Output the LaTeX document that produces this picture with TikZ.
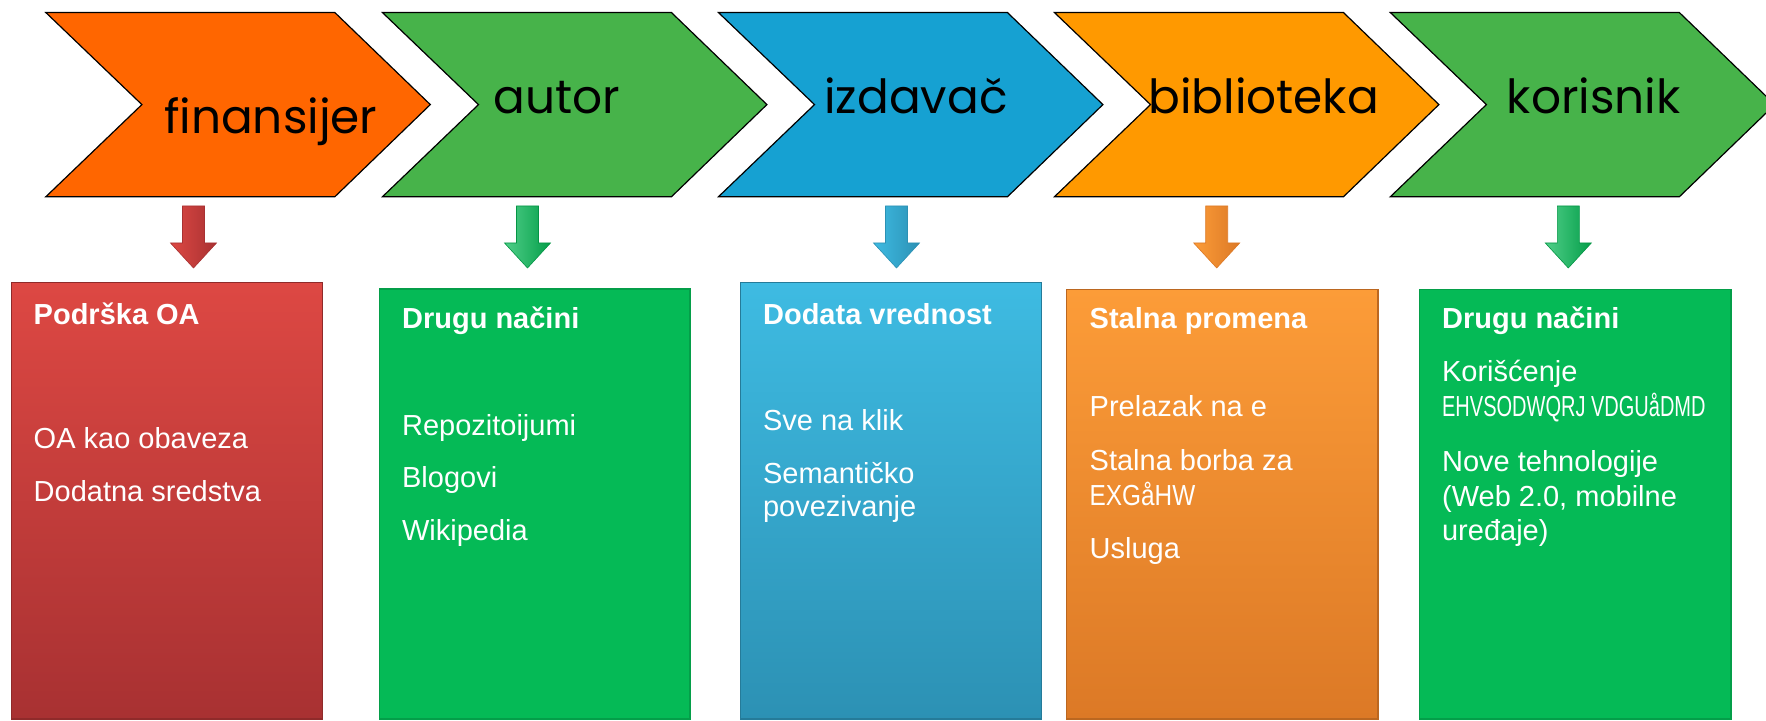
\documentclass[tikz,border=0pt]{standalone}
\usepackage{fontspec}
\setmainfont{Liberation Sans}
\newfontfamily\comicfont{Poppins}
\usepackage{xcolor}
\usepackage{graphicx}
\usepackage{tikz}

\definecolor{chevOrange}{RGB}{255,102,0}
\definecolor{chevGreen}{RGB}{71,179,74}
\definecolor{chevBlue}{RGB}{22,161,210}
\definecolor{chevAmber}{RGB}{255,153,0}
\definecolor{boxRedTop}{RGB}{221,72,67}
\definecolor{boxRedBot}{RGB}{168,49,50}
\definecolor{boxGreen}{RGB}{5,186,86}
\definecolor{boxBlueTop}{RGB}{62,187,226}
\definecolor{boxBlueBot}{RGB}{44,145,180}
\definecolor{boxAmberTop}{RGB}{252,156,56}
\definecolor{boxAmberBot}{RGB}{220,121,38}

\begin{document}
\begin{tikzpicture}[x=0.5pt,y=0.5pt,yscale=-1,xscale=1,
  chev/.style={draw=black, line width=0.6pt},
  chevtext/.style={font=\comicfont\fontsize{23.5}{28}\selectfont, anchor=base, inner sep=0pt},
  block/.style={line width=0.6pt},
  darrow/.style={line width=0.3pt},
  boxhead/.style={font=\bfseries\fontsize{14.5}{17.5}\selectfont, text=white, anchor=base west, inner sep=0pt},
  boxtext/.style={font=\fontsize{14.5}{17.5}\selectfont, text=white, anchor=base west, inner sep=0pt}]
\useasboundingbox (0,0) rectangle (1766,721);

%Shape: Chevron
\draw [chev, fill=chevOrange] (45.9,12.6) -- (334.9,12.6) -- (430.3,104.6) -- (334.9,196.7) -- (45.9,196.7) -- (141.9,104.6) -- cycle ;
%Shape: Chevron
\draw [chev, fill=chevGreen] (382.5,12.6) -- (671.5,12.6) -- (766.9,104.6) -- (671.5,196.7) -- (382.5,196.7) -- (478.5,104.6) -- cycle ;
%Shape: Chevron
\draw [chev, fill=chevBlue] (718.5,12.6) -- (1007.5,12.6) -- (1102.9,104.6) -- (1007.5,196.7) -- (718.5,196.7) -- (814.5,104.6) -- cycle ;
%Shape: Chevron
\draw [chev, fill=chevAmber] (1054.5,12.6) -- (1343.5,12.6) -- (1438.9,104.6) -- (1343.5,196.7) -- (1054.5,196.7) -- (1150.5,104.6) -- cycle ;
%Shape: Chevron
\draw [chev, fill=chevGreen] (1390.4,12.6) -- (1679.4,12.6) -- (1774.8,104.6) -- (1679.4,196.7) -- (1390.4,196.7) -- (1486.4,104.6) -- cycle ;

%Shape: Down Arrow
\draw [darrow, draw=boxRedBot, left color=boxRedTop, right color=boxRedBot] (182.5,206) -- (204.5,206) -- (204.5,243) -- (216.5,243) -- (193.5,268) -- (170.5,243) -- (182.5,243) -- cycle ;
%Shape: Down Arrow
\draw [darrow, draw=boxGreen!80!black, left color=boxGreen!70!white, right color=boxGreen!85!black] (516.5,206) -- (538.5,206) -- (538.5,243) -- (550.5,243) -- (527.5,268) -- (504.5,243) -- (516.5,243) -- cycle ;
%Shape: Down Arrow
\draw [darrow, draw=boxBlueBot, left color=boxBlueTop, right color=boxBlueBot] (885.5,206) -- (907.5,206) -- (907.5,243) -- (919.5,243) -- (896.5,268) -- (873.5,243) -- (885.5,243) -- cycle ;
%Shape: Down Arrow
\draw [darrow, draw=boxAmberBot, left color=boxAmberTop, right color=boxAmberBot] (1205.7,206) -- (1227.7,206) -- (1227.7,243) -- (1239.7,243) -- (1216.7,268) -- (1193.7,243) -- (1205.7,243) -- cycle ;
%Shape: Down Arrow
\draw [darrow, draw=boxGreen!80!black, left color=boxGreen!70!white, right color=boxGreen!85!black] (1557.3,206) -- (1579.3,206) -- (1579.3,243) -- (1591.3,243) -- (1568.3,268) -- (1545.3,243) -- (1557.3,243) -- cycle ;

%Shape: Rectangle
\draw [block, draw=boxRedBot!85!black, top color=boxRedTop, bottom color=boxRedBot] (11.7,282.7) rectangle (322.7,719) ;
%Shape: Rectangle
\draw [block, draw=boxGreen!85!black, fill=boxGreen] (379.3,289) rectangle (690,719) ;
%Shape: Rectangle
\draw [block, draw=boxBlueBot!85!black, top color=boxBlueTop, bottom color=boxBlueBot] (740.7,282.7) rectangle (1041.5,719) ;
%Shape: Rectangle
\draw [block, draw=boxAmberBot!85!black, top color=boxAmberTop, bottom color=boxAmberBot] (1066.7,289.3) rectangle (1378,719) ;
%Shape: Rectangle
\draw [block, draw=boxGreen!85!black, fill=boxGreen] (1419.3,289.3) rectangle (1731,719) ;

% Text Node
\draw (270.8,134) node (finansijer) [chevtext] {finansijer};
% Text Node
\draw (557,113.5) node (autor) [chevtext] {autor};
% Text Node
\draw (916,113.5) node (izdavac) [chevtext] {izdavač};
% Text Node
\draw (1263.6,113.5) node (biblioteka) [chevtext] {biblioteka};
% Text Node
\draw (1593.7,113.5) node (korisnik) [chevtext] {korisnik};

% Text Node
\draw (33.3,325) node (podrska) [boxhead] {Podrška OA};
\draw (33.3,448.3) node (obaveza) [boxtext] {OA kao obaveza};
\draw (33.3,501.7) node (sredstva) [boxtext] {Dodatna sredstva};
% Text Node
\draw (401.7,328.3) node (nacA) [boxhead] {Drugu načini};
\draw (401.7,436) node (repo) [boxtext] {Repozitoijumi};
\draw (401.7,487.7) node (blog) [boxtext] {Blogovi};
\draw (401.7,540) node (wiki) [boxtext] {Wikipedia};
% Text Node
\draw (762.7,324.3) node (vrednost) [boxhead] {Dodata vrednost};
\draw (762.7,430.7) node (klik) [boxtext] {Sve na klik};
\draw (762.7,483.3) node (semA) [boxtext] {Semantičko};
\draw (762.7,516.7) node (semB) [boxtext] {povezivanje};
% Text Node
\draw (1089.3,328.3) node (promena) [boxhead] {Stalna promena};
\draw (1089.3,416.7) node (prelazak) [boxtext] {Prelazak na e};
\draw (1089.3,470) node (borbaA) [boxtext] {Stalna borba za};
\draw (1089.3,505) node (borbaB) [boxtext] {\scalebox{0.84}[1]{EXGåHW}};
\draw (1089.3,558.3) node (usluga) [boxtext] {Usluga};
% Text Node
\draw (1441.7,329) node (nacB) [boxhead] {Drugu načini};
\draw (1441.7,381.7) node (korA) [boxtext] {Korišćenje};
\draw (1441.7,416.7) node (korB) [boxtext] {\scalebox{0.69}[1]{EHVSODWQRJ VDGUåDMD}};
\draw (1441.7,471.7) node (noveA) [boxtext] {Nove tehnologije};
\draw (1441.7,506.7) node (noveB) [boxtext] {(Web 2.0, mobilne};
\draw (1441.7,540) node (noveC) [boxtext] {uređaje)};

\end{tikzpicture}
\end{document}
